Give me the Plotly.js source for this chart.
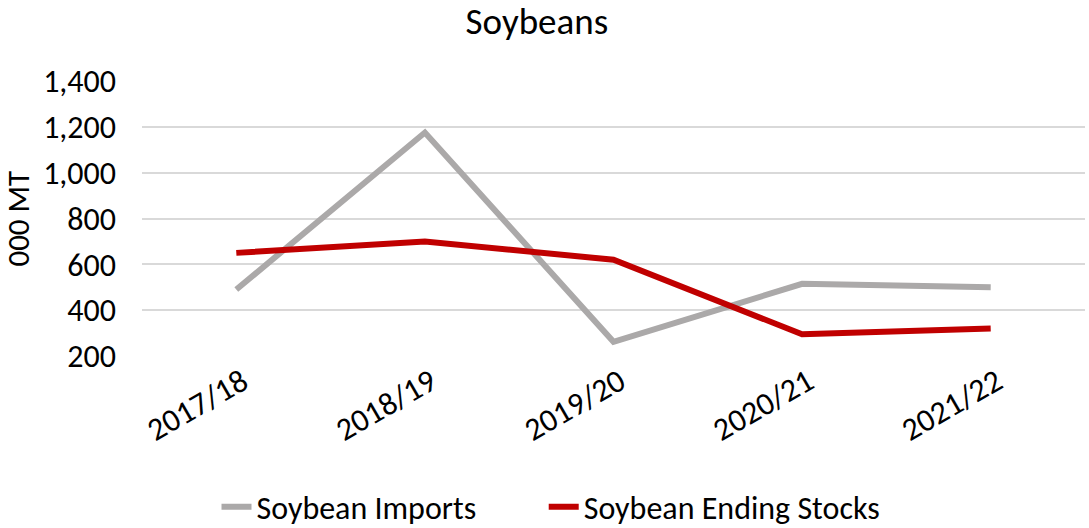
<!DOCTYPE html>
<html><head><meta charset="utf-8">
<script src="https://cdn.plot.ly/plotly-3.0.1.min.js"></script>
<style>html,body{margin:0;padding:0;background:#fff}#chart{width:1089px;height:528px}</style>
</head><body><div id="chart"></div>
<script>
const years = ["2017/18", "2018/19", "2019/20", "2020/21", "2021/22"];
const soybeanImports = [490, 1175, 262, 515, 500];
const soybeanEndingStocks = [650, 700, 620, 295, 320];
const yTicks = [200, 400, 600, 800, 1000, 1200, 1400];
const yTickText = ["200", "400", "600", "800", "1,000", "1,200", "1,400"];

const FONT = "Carlito, Lato, 'Open Sans', sans-serif";
const traces = [
  {x: years, y: soybeanImports, type: "scatter", mode: "lines", name: "Soybean Imports",
   line: {color: "#ABA9A9", width: 6}, legend: "legend"},
  {x: years, y: soybeanEndingStocks, type: "scatter", mode: "lines", name: "Soybean Ending Stocks",
   line: {color: "#C00000", width: 6}, legend: "legend2"}
];
const legendBase = {orientation: "h", xanchor: "left", yref: "container", y: 0.04, yanchor: "middle",
                    font: {size: 32}, bgcolor: "rgba(0,0,0,0)"};
const layout = {
  width: 1089, height: 528,
  margin: {l: 142, r: 4, t: 81, b: 172},
  paper_bgcolor: "#fff", plot_bgcolor: "#fff",
  font: {family: FONT, size: 32, color: "#000"},
  title: {text: "Soybeans", x: 0.493, xanchor: "center", y: 0.96, yanchor: "middle",
          font: {family: FONT, size: 37, color: "#000"}},
  xaxis: {type: "category", range: [-0.5, 4.5], tickangle: -30, showgrid: false, automargin: false,
          showline: false, zeroline: false, ticks: "", ticklabelshift: 6, tickfont: {size: 32}},
  yaxis: {range: [200, 1400], tickvals: yTicks, ticktext: yTickText, showgrid: true, automargin: false,
          gridcolor: "#D9D9D9", gridwidth: 2, zeroline: false, showline: false, ticks: "",
          ticklen: 0, ticklabelstandoff: 25, tickfont: {size: 32}},
  annotations: [{text: "000 MT", xref: "paper", yref: "paper", x: -0.1325, y: 0.5,
                 xanchor: "center", yanchor: "middle", textangle: -90, showarrow: false,
                 font: {size: 31}}],
  legend: Object.assign({}, legendBase, {x: 0.079}),
  legend2: Object.assign({}, legendBase, {x: 0.426}),
  showlegend: true
};
Plotly.newPlot("chart", traces, layout, {staticPlot: true, displayModeBar: false});
</script></body></html>
